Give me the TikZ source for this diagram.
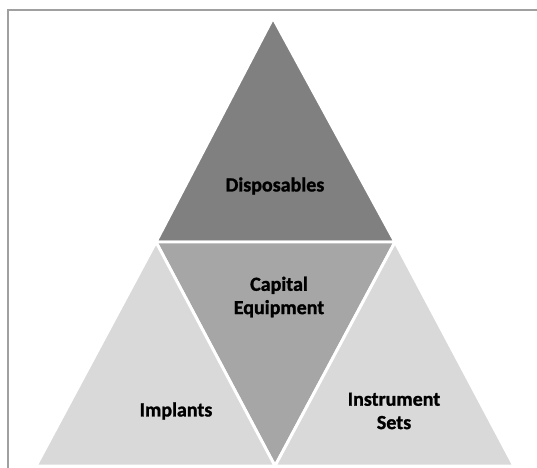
\documentclass[tikz,border=0pt]{standalone}
\usepackage{fontspec}
\setmainfont{Carlito}
\newfontfamily\labelfont[FakeBold=1.3]{Carlito}
\definecolor{darkpart}{HTML}{808080}
\definecolor{midpart}{HTML}{A6A6A6}
\definecolor{lightpart}{HTML}{D9D9D9}
\definecolor{framegray}{HTML}{A0A0A0}
\begin{document}
\begin{tikzpicture}[x=0.75pt, y=-0.75pt,
	part/.style = {draw = white, line width = 2.2pt, line join = miter},
	label/.style = {font = \labelfont\bfseries\fontsize{15}{17.5}\selectfont, align = center, text = black}]
		\useasboundingbox (0, 0) rectangle (537, 468);
		\fill [white] (0, 0) rectangle (537, 468);
		% frame, only top and left edge show
		\draw [framegray, line width = 1.6pt] (8, 468) -- (8, 10) -- (537, 10);
		% corners of the pyramid
		\coordinate (apex) at (273, 18);
		\coordinate (ml) at (156, 242);
		\coordinate (mr) at (395, 242);
		\coordinate (bl) at (36, 466);
		\coordinate (bm) at (275, 466);
		\coordinate (br) at (514, 466);
		\foreach \a/\b/\c/\color in {apex/ml/mr/darkpart, ml/mr/bm/midpart, ml/bl/bm/lightpart, mr/bm/br/lightpart}{
			\filldraw [part, fill = \color] (\a) -- (\b) -- (\c) -- cycle;}
		\node [label] (disp) at (275, 186) {Disposables};
		\node [label] (capital) at (279, 297) {Capital\\Equipment};
		\node [label] (impl) at (176, 411) {Implants};
		\node [label] (instr) at (394, 411) {Instrument\\Sets};
\end{tikzpicture}
\end{document}
